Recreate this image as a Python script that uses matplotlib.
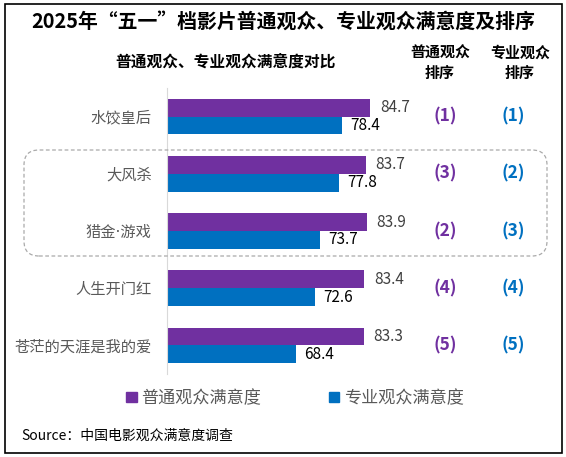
import matplotlib
matplotlib.use("Agg")
import numpy as np
import matplotlib.pyplot as plt
from matplotlib.patches import FancyBboxPatch, Rectangle, Patch
from matplotlib.transforms import blended_transform_factory

plt.rcParams['font.family'] = ['Noto Sans CJK SC', 'DejaVu Sans']

# data
movies = ["水饺皇后", "大风杀", "猎金·游戏", "人生开门红", "苍茫的天涯是我的爱"]
general = [84.7, 83.7, 83.9, 83.4, 83.3]
expert = [78.4, 77.8, 73.7, 72.6, 68.4]
general_rank = [1, 3, 2, 4, 5]
expert_rank = [1, 2, 3, 4, 5]
series_names = ["普通观众满意度", "专业观众满意度"]

PURPLE = "#7030A0"
BLUE = "#0070C0"
W, H = 566, 457


def fx(px):
    return px / W


def fy(py):
    return 1 - py / H


fig = plt.figure(figsize=(W / 100, H / 100), dpi=100)

# main bar axes
ax_left, ax_right, ax_top, ax_bot = 167, 417, 88, 374
ax = fig.add_axes([fx(ax_left), fy(ax_bot), (ax_right - ax_left) / W, (ax_bot - ax_top) / H])

y = np.arange(len(movies))
bh = 0.31
ax.barh(y - bh / 2, general, height=bh, color=PURPLE)
ax.barh(y + bh / 2, expert, height=bh, color=BLUE)

for i in range(len(movies)):
    ax.annotate(f"{general[i]:.1f}", (general[i], y[i] - bh / 2), xytext=(7, 0),
                textcoords="offset points", va="center", ha="left", fontsize=11, color="#404040")
    ax.annotate(f"{expert[i]:.1f}", (expert[i], y[i] + bh / 2), xytext=(6, 0),
                textcoords="offset points", va="center", ha="left", fontsize=11, color="black")

ax.set_xlim(40, 95)
ax.set_ylim(4.5, -0.5)
ax.set_xticks([])
ax.set_yticks(y)
ax.set_yticklabels(movies, fontsize=11, color="#595959",
                   family=['DejaVu Sans', 'Noto Sans CJK SC'])
ax.tick_params(axis="y", length=0, pad=11)
for s in ["top", "right", "bottom"]:
    ax.spines[s].set_visible(False)
ax.spines["left"].set_color("#D9D9D9")
ax.patch.set_alpha(0)

# rank columns
tr = blended_transform_factory(fig.transFigure, ax.transData)
for i in range(len(movies)):
    ax.text(fx(445), y[i], f"({general_rank[i]})", transform=tr, ha="center", va="center",
            fontsize=12.5, fontweight="bold", color=PURPLE, clip_on=False)
    ax.text(fx(513), y[i], f"({expert_rank[i]})", transform=tr, ha="center", va="center",
            fontsize=12.5, fontweight="bold", color=BLUE, clip_on=False)

# titles / headers
fig.text(fx(283), fy(21), "2025年“五一”档影片普通观众、专业观众满意度及排序",
         ha="center", va="center", fontsize=14.3, fontweight="bold", color="black")
fig.text(fx(226), fy(62), "普通观众、专业观众满意度对比", ha="center", va="center",
         fontsize=11.3, fontweight="bold", color="black")
fig.text(fx(440), fy(63), "普通观众\n排序", ha="center", va="center",
         fontsize=10.8, fontweight="bold", color="black", linespacing=1.35)
fig.text(fx(520), fy(63), "专业观众\n排序", ha="center", va="center",
         fontsize=10.8, fontweight="bold", color="black", linespacing=1.35)

# legend
handles = [Patch(color=PURPLE), Patch(color=BLUE)]
fig.legend(handles, series_names, loc="center", bbox_to_anchor=(fx(295), fy(398)),
           ncol=2, frameon=False, fontsize=12.3, handlelength=0.6, handleheight=0.6,
           handletextpad=0.25, columnspacing=4.0, labelcolor="#595959")

fig.text(fx(21), fy(436), "Source：中国电影观众满意度调查", ha="left", va="center",
         fontsize=10, color="black")

# dashed rounded box around groups 2-3
box = FancyBboxPatch((0.24, 2.01), 5.23, 1.06, boxstyle="round,pad=0,rounding_size=0.15",
                     transform=fig.dpi_scale_trans, fill=False, edgecolor="#AAAAAA",
                     linestyle=(0, (3, 2)), linewidth=0.9)
fig.add_artist(box)

# outer border
fig.add_artist(Rectangle((0.045, 0.045), 5.575, 4.49, transform=fig.dpi_scale_trans,
                         fill=False, edgecolor="black", linewidth=1.2))

fig.savefig("out.png", dpi=100)
